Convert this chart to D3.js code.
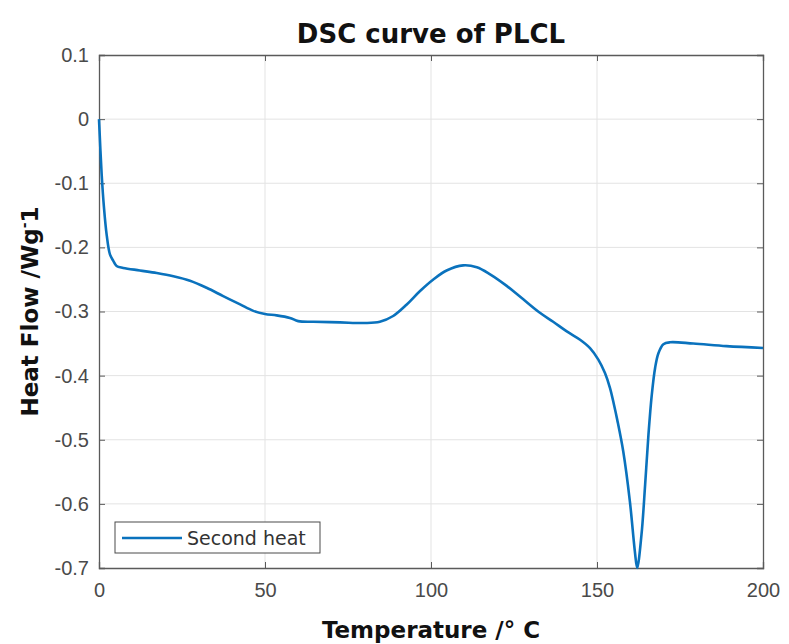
<!DOCTYPE html>
<html>
<head>
<meta charset="utf-8">
<script src="https://cdn.jsdelivr.net/npm/d3@7"></script>
<style>
  body { margin: 0; background: #fff; }
  svg { font-family: "DejaVu Sans", Lato, sans-serif; }
</style>
</head>
<body>
<svg id="chart" width="789" height="644"></svg>
<script>
// values
var temperature = [0, 0.8, 1.5, 2.3, 3.3, 4.3, 5.3, 7.3, 12.3, 17.4, 22.4, 27.4, 32.4, 37.4, 42.5,
    46.5, 50, 53.5, 57.5, 60, 64.6, 72.6, 80, 84.6, 88.6, 92.7, 96.7, 100.7, 104.7, 109.7, 113.8,
    117.8, 122.8, 127.8, 132.8, 136.8, 140.9, 144.9, 147.9, 150.4, 152.4, 153.9, 155.1, 156.1,
    157.9, 159.9, 161.4, 162.1, 163.4, 164.5, 165.5, 166.5, 167.5, 168.5, 170, 172, 179, 189, 200];
var heatFlow = [0, -0.086, -0.138, -0.18, -0.211, -0.221, -0.229, -0.232, -0.236, -0.24, -0.245,
    -0.252, -0.263, -0.276, -0.289, -0.299, -0.304, -0.306, -0.31, -0.315, -0.316, -0.317, -0.318,
    -0.316, -0.307, -0.289, -0.268, -0.25, -0.236, -0.228, -0.231, -0.242, -0.26, -0.281, -0.302,
    -0.316, -0.331, -0.344, -0.357, -0.375, -0.396, -0.419, -0.445, -0.469, -0.518, -0.596, -0.674,
    -0.700, -0.648, -0.57, -0.492, -0.43, -0.388, -0.365, -0.351, -0.348, -0.35, -0.354, -0.357];
var xTicks = [0, 50, 100, 150, 200];
var yTicks = [0.1, 0, -0.1, -0.2, -0.3, -0.4, -0.5, -0.6, -0.7];
var seriesName = 'Second heat';

var margin = {top: 55, right: 26, bottom: 76, left: 99},
    width = 789 - margin.left - margin.right,
    height = 644 - margin.top - margin.bottom;

var svg = d3.select('#chart');
var g = svg.append('g').attr('transform', 'translate(' + margin.left + ',' + margin.top + ')');

var x = d3.scaleLinear().domain([0, 200]).range([0, width]);
var y = d3.scaleLinear().domain([-0.7, 0.1]).range([height, 0]);

// grid
g.append('g').selectAll('line').data(xTicks.slice(1, -1)).enter().append('line')
    .attr('x1', function(d) { return x(d); }).attr('x2', function(d) { return x(d); })
    .attr('y1', 0).attr('y2', height)
    .attr('stroke', '#e3e3e3').attr('stroke-width', 1);
g.append('g').selectAll('line').data(yTicks.slice(1, -1)).enter().append('line')
    .attr('y1', function(d) { return y(d); }).attr('y2', function(d) { return y(d); })
    .attr('x1', 0).attr('x2', width)
    .attr('stroke', '#e3e3e3').attr('stroke-width', 1);

// axes, ticks pointing inwards like matlab (plain hyphen for minus)
var fmt = function(d) { return String(d); };
var axBottom = g.append('g').attr('transform', 'translate(0,' + height + ')')
    .call(d3.axisBottom(x).tickValues(xTicks).tickSize(-6).tickPadding(15).tickFormat(fmt));
var axLeft = g.append('g')
    .call(d3.axisLeft(y).tickValues(yTicks).tickSize(-6).tickPadding(10).tickFormat(fmt));
var axTop = g.append('g')
    .call(d3.axisTop(x).tickValues(xTicks).tickSize(-6).tickFormat(''));
var axRight = g.append('g').attr('transform', 'translate(' + width + ',0)')
    .call(d3.axisRight(y).tickValues(yTicks).tickSize(-6).tickFormat(''));

[axBottom, axLeft, axTop, axRight].forEach(function(a) {
    a.select('.domain').attr('stroke', '#5a5a5a').attr('stroke-width', 1.3);
    a.selectAll('.tick line').attr('stroke', '#5a5a5a');
    a.selectAll('.tick text').attr('fill', '#4a4a4a').style('font-size', '20px');
});

// curve
var pts = temperature.map(function(t, i) { return [t, heatFlow[i]]; });
var line = d3.line()
    .x(function(d) { return x(d[0]); })
    .y(function(d) { return y(d[1]); })
    .curve(d3.curveCatmullRom.alpha(0.5));

g.append('path').datum(pts)
    .attr('d', line)
    .attr('fill', 'none')
    .attr('stroke', '#0a72bd')
    .attr('stroke-width', 2.6)
    .attr('stroke-linejoin', 'round');

// legend
var leg = svg.append('g').attr('transform', 'translate(115,522)');
leg.append('rect').attr('width', 205).attr('height', 31)
    .attr('fill', '#fff').attr('stroke', '#4a4a4a').attr('stroke-width', 1);
leg.append('line').attr('x1', 7).attr('x2', 67).attr('y1', 16).attr('y2', 16)
    .attr('stroke', '#0a72bd').attr('stroke-width', 2.6);
leg.append('text').attr('x', 72).attr('y', 23).text(seriesName)
    .attr('fill', '#333').style('font-size', '19px');

// titles
svg.append('text').attr('x', margin.left + width / 2).attr('y', 43)
    .attr('text-anchor', 'middle').style('font-size', '26px').style('font-weight', 'bold')
    .attr('fill', '#111').text('DSC curve of PLCL');

svg.append('text').attr('x', margin.left + width / 2).attr('y', 638)
    .attr('text-anchor', 'middle').style('font-size', '23px').style('font-weight', 'bold')
    .attr('fill', '#111').text('Temperature /° C');

var yl = svg.append('text')
    .attr('transform', 'translate(38,' + (margin.top + height / 2) + ') rotate(-90)')
    .attr('text-anchor', 'middle').style('font-size', '23px').style('font-weight', 'bold')
    .attr('fill', '#111');
yl.append('tspan').text('Heat Flow /Wg');
yl.append('tspan').attr('dy', -9).style('font-size', '14px').text('-');
yl.append('tspan').attr('dy', 9).text('1');
</script>
</body>
</html>
